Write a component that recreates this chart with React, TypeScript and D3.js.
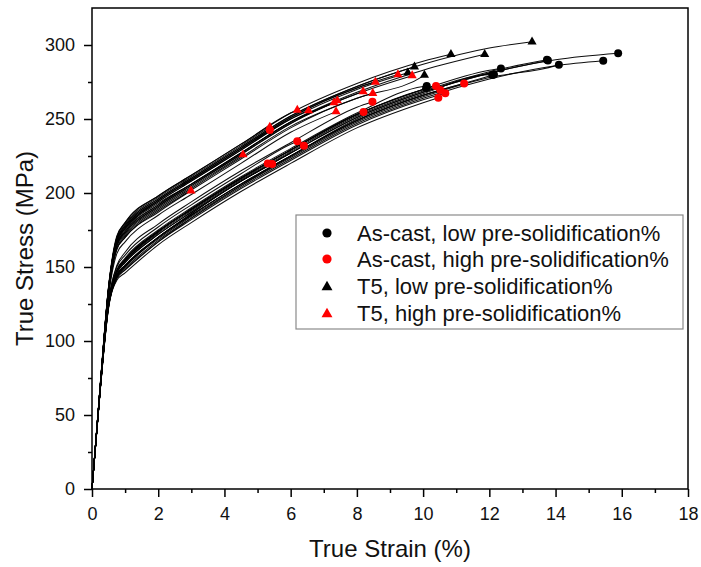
import React, { useEffect, useRef } from 'react';
import * as d3 from 'd3';

// strain grid (%) at which each curve's stress (MPa) was read
const strainGrid = [0, 0.25, 0.5, 0.75, 1, 2, 3, 4.5, 6, 8, 10, 12, 14];

// As-cast, low pre-solidification%
const asCastLowEnds = [[10.11, 272.3], [10.09, 270.7], [12.09, 279.7], [12.14, 280], [12.35, 284.2], [13.74, 290], [13.77, 289.5], [14.1, 286.7], [15.44, 289.4], [15.89, 294.4]];
const asCastLowStress = [
  [0, 68, 126, 148, 156, 175, 190, 211, 230, 254, 272],
  [0, 68, 125, 147, 154, 174, 189, 210, 229, 253, 270],
  [0, 68, 124, 145, 151, 170, 185, 206, 225, 250, 267, 280],
  [0, 67, 123, 143, 148, 167, 183, 205, 225, 249, 266, 279],
  [0, 68, 126, 148, 155, 174, 189, 210, 229, 253, 270, 283],
  [0, 68, 125, 147, 154, 173, 188, 209, 228, 252, 269, 282],
  [0, 68, 124, 144, 151, 170, 186, 208, 227, 251, 268, 281],
  [0, 68, 124, 143, 150, 169, 184, 205, 224, 248, 265, 278, 286],
  [0, 68, 123, 143, 149, 168, 183, 204, 223, 247, 264, 277, 286],
  [0, 68, 125, 146, 153, 172, 187, 208, 227, 251, 268, 281, 290],
];

// As-cast, high pre-solidification%
const asCastHighEnds = [[5.31, 220], [5.44, 219.6], [6.2, 235], [6.4, 232], [8.2, 254.7], [8.47, 261.7], [10.39, 272.3], [10.52, 269.6], [10.67, 267.4], [10.46, 264.4], [11.24, 274], [5.37, 242.6]];
const asCastHighStress = [
  [0, 68, 125, 147, 155, 174, 189, 210],
  [0, 67, 123, 144, 151, 170, 186, 208],
  [0, 68, 127, 150, 158, 177, 192, 213, 233],
  [0, 68, 125, 146, 153, 172, 187, 208, 227],
  [0, 68, 125, 147, 155, 174, 189, 210, 229, 253],
  [0, 68, 127, 151, 160, 179, 194, 215, 234, 258],
  [0, 68, 125, 147, 155, 174, 189, 210, 229, 253, 270],
  [0, 68, 124, 145, 151, 170, 185, 206, 225, 249, 266],
  [0, 68, 123, 142, 148, 167, 182, 203, 222, 246, 263],
  [0, 67, 122, 141, 146, 165, 180, 201, 220, 244, 261],
  [0, 68, 124, 144, 150, 170, 185, 206, 225, 249, 266],
  [0, 70, 135, 168, 177, 195, 209, 230],
];

// T5, low pre-solidification%
const t5LowEnds = [[13.29, 302.2], [11.86, 293.7], [10.84, 293.7], [9.74, 285.3], [9.54, 281.3], [10.04, 279.7]];
const t5LowStress = [
  [0, 70, 136, 169, 178, 196, 210, 231, 252, 272, 287, 298],
  [0, 70, 134, 166, 174, 192, 206, 227, 248, 268, 283],
  [0, 71, 137, 171, 180, 198, 212, 233, 254, 274, 289],
  [0, 70, 136, 169, 178, 196, 210, 231, 252, 272],
  [0, 70, 135, 167, 176, 194, 208, 229, 250, 270],
  [0, 69, 133, 163, 171, 189, 203, 224, 245, 264, 279],
];

// T5, high pre-solidification%
const t5HighEnds = [[2.99, 201.5], [4.56, 225.9], [5.37, 244.6], [6.2, 256], [6.54, 255.6], [7.31, 261], [7.41, 262.4], [7.37, 255], [8.19, 268.5], [8.48, 267.4], [8.56, 275], [9.24, 280], [9.67, 279.3]];
const t5HighStress = [
  [0, 69, 132, 162, 170, 187],
  [0, 70, 133, 164, 172, 190, 204, 225],
  [0, 70, 136, 170, 179, 197, 211, 232],
  [0, 71, 136, 170, 180, 198, 212, 233, 254],
  [0, 70, 135, 167, 176, 194, 208, 229, 250],
  [0, 70, 134, 165, 174, 192, 206, 227, 248],
  [0, 70, 135, 166, 175, 193, 206, 227, 248],
  [0, 68, 130, 159, 167, 185, 199, 220, 241],
  [0, 70, 134, 165, 173, 191, 205, 226, 247, 267],
  [0, 69, 132, 162, 170, 188, 202, 223, 244, 264],
  [0, 70, 135, 168, 177, 195, 209, 230, 251, 271],
  [0, 70, 136, 168, 176, 195, 209, 230, 251, 271],
  [0, 70, 134, 165, 173, 191, 205, 226, 247, 267],
];

const xMajorTicks = [0, 2, 4, 6, 8, 10, 12, 14, 16, 18];
const xMinorTicks = [1, 3, 5, 7, 9, 11, 13, 15, 17];
const yMajorTicks = [0, 50, 100, 150, 200, 250, 300];
const yMinorTicks = [25, 75, 125, 175, 225, 275];

const legendLabels = [
  'As-cast, low pre-solidification%',
  'As-cast, high pre-solidification%',
  'T5, low pre-solidification%',
  'T5, high pre-solidification%',
];

const groups = [
  { ends: asCastLowEnds, stress: asCastLowStress, color: '#000000', shape: 'circle' },
  { ends: asCastHighEnds, stress: asCastHighStress, color: '#ff0000', shape: 'circle' },
  { ends: t5LowEnds, stress: t5LowStress, color: '#000000', shape: 'triangle' },
  { ends: t5HighEnds, stress: t5HighStress, color: '#ff0000', shape: 'triangle' },
];

const W = 701;
const H = 567;
const FONT = '"Liberation Sans", Arial, Helvetica, sans-serif';

export default function App() {
  const xAxisRef = useRef<SVGGElement>(null);
  const xMinorRef = useRef<SVGGElement>(null);
  const yAxisRef = useRef<SVGGElement>(null);
  const yMinorRef = useRef<SVGGElement>(null);

  const x = d3.scaleLinear().domain([0, 18]).range([92, 688]);
  const y = d3.scaleLinear().domain([0, 325]).range([489, 8]);

  useEffect(() => {
    const style = (g: any) => {
      g.select('.domain').remove();
      g.selectAll('line').attr('stroke', '#000').attr('stroke-width', 1.5);
      g.selectAll('text').attr('font-family', FONT).attr('font-size', 18).attr('fill', '#111');
    };
    d3.select(xAxisRef.current!).call(
      d3.axisBottom(x).tickValues(xMajorTicks).tickSize(8).tickPadding(10).tickFormat(d3.format('d')) as any
    ).call(style);
    d3.select(xMinorRef.current!).call(
      d3.axisBottom(x).tickValues(xMinorTicks).tickSize(4).tickFormat(() => '') as any
    ).call(style);
    d3.select(yAxisRef.current!).call(
      d3.axisLeft(y).tickValues(yMajorTicks).tickSize(8).tickPadding(9).tickFormat(d3.format('d')) as any
    ).call(style);
    d3.select(yMinorRef.current!).call(
      d3.axisLeft(y).tickValues(yMinorTicks).tickSize(4).tickFormat(() => '') as any
    ).call(style);
  }, []);

  const line = d3
    .line<number[]>()
    .x((d) => x(d[0]))
    .y((d) => y(d[1]))
    .curve(d3.curveMonotoneX);

  const triSmall = d3.symbol(d3.symbolTriangle, 36)()!;
  const triLegend = d3.symbol(d3.symbolTriangle, 52)()!;

  const curves: JSX.Element[] = [];
  const markers: JSX.Element[] = [];
  groups.forEach((g, gi) => {
    g.stress.forEach((s, i) => {
      const pts = s.map((v, k) => [strainGrid[k], v]);
      pts.push(g.ends[i]);
      curves.push(
        <path key={`c${gi}-${i}`} d={line(pts)!} fill="none" stroke="#000" strokeWidth={1.05} strokeOpacity={0.95} />
      );
    });
    g.ends.forEach((e, i) => {
      const cx = x(e[0]);
      const cy = y(e[1]);
      markers.push(
        g.shape === 'circle' ? (
          <circle key={`m${gi}-${i}`} cx={cx} cy={cy} r={4} fill={g.color} />
        ) : (
          <path key={`m${gi}-${i}`} d={triSmall} transform={`translate(${cx},${cy})`} fill={g.color} />
        )
      );
    });
  });

  const legendX = 296;
  const legendY = 215;
  const legendW = 387;
  const legendH = 114;
  const rowY = [233, 259, 286, 313];

  return (
    <svg width={W} height={H} style={{ position: 'absolute', left: 0, top: 0, background: '#fff' }}>
      <rect x={0} y={0} width={W} height={H} fill="#fff" />
      <g>{curves}</g>
      <g>{markers}</g>
      <rect x={x(0)} y={y(325)} width={x(18) - x(0)} height={y(0) - y(325)} fill="none" stroke="#000" strokeWidth={1.5} />
      <g ref={xAxisRef} transform={`translate(0,${y(0)})`} />
      <g ref={xMinorRef} transform={`translate(0,${y(0)})`} />
      <g ref={yAxisRef} transform={`translate(${x(0)},0)`} />
      <g ref={yMinorRef} transform={`translate(${x(0)},0)`} />
      <text x={(x(0) + x(18)) / 2} y={557} textAnchor="middle" fontFamily={FONT} fontSize={24} fill="#111">
        True Strain (%)
      </text>
      <text
        transform={`translate(33,${(y(0) + y(325)) / 2}) rotate(-90)`}
        textAnchor="middle"
        fontFamily={FONT}
        fontSize={24}
        fill="#111"
      >
        True Stress (MPa)
      </text>
      <g>
        <rect x={legendX} y={legendY} width={legendW} height={legendH} fill="#fff" stroke="#8a8a8a" strokeWidth={1.2} />
        {legendLabels.map((lab, i) => {
          const g = groups[i];
          return (
            <g key={lab}>
              {g.shape === 'circle' ? (
                <circle cx={327} cy={rowY[i]} r={4.6} fill={g.color} />
              ) : (
                <path d={triLegend} transform={`translate(327,${rowY[i] + 1})`} fill={g.color} />
              )}
              <text x={357} y={rowY[i]} dy="0.36em" fontFamily={FONT} fontSize={22} fill="#111">
                {lab}
              </text>
            </g>
          );
        })}
      </g>
    </svg>
  );
}
